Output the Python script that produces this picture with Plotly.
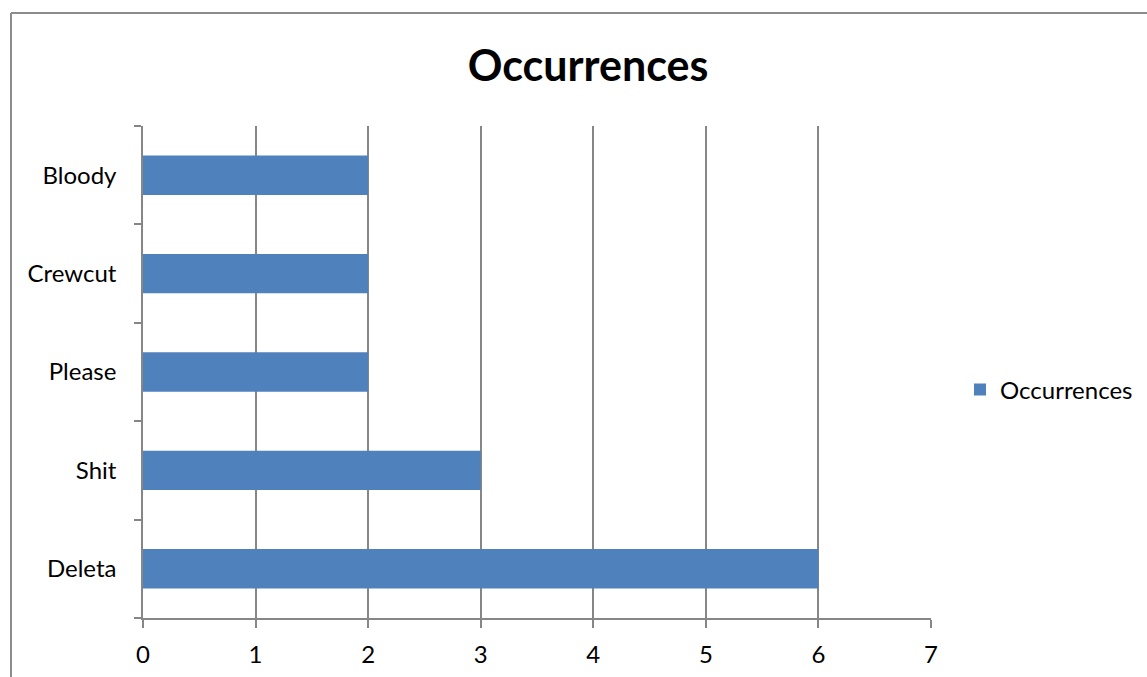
import plotly.graph_objects as go

categories = ["Deleta", "Shit", "Please", "Crewcut", "Bloody"]
values = [6, 3, 2, 2, 2]
series_name = "Occurrences"

W, H = 1147, 677
L, R, T, B = 143, 216, 126, 59
pw, ph = W - L - R, H - T - B

def px_x(x):
    return (x - L) / pw

def px_y(y):
    return (H - B - y) / ph

FONT = "Lato, Carlito, Calibri, sans-serif"
GRID = "#868686"

fig = go.Figure(go.Bar(
    y=categories, x=values, orientation="h", name=series_name,
    marker=dict(color="#4F81BD", line=dict(width=0)),
    showlegend=True,
))

fig.update_layout(
    width=W, height=H,
    margin=dict(l=L, r=R, t=T, b=B, autoexpand=False),
    paper_bgcolor="white", plot_bgcolor="white",
    bargap=0.6,
    font=dict(family=FONT, size=24, color="black"),
    title=dict(text="<b>Occurrences</b>", x=px_x(588), xref="paper", xanchor="center",
               y=1 - 66 / H, yanchor="middle", font=dict(size=43, family=FONT, color="black")),
    xaxis=dict(range=[0, 7], dtick=1, tick0=0, showgrid=True, gridcolor=GRID, gridwidth=1.5,
               showline=True, linecolor=GRID, linewidth=1.5, ticks="outside", ticklen=8,
               tickcolor=GRID, tickwidth=1.5, zeroline=False, fixedrange=True, automargin=False,
               ticklabelstandoff=6, tickfont=dict(size=24)),
    yaxis=dict(showgrid=False, showline=True, linecolor=GRID, linewidth=1.5, ticks="outside",
               ticklen=7, tickcolor=GRID, tickwidth=1.5, tickson="boundaries", automargin=False,
               ticklabelstandoff=20, tickfont=dict(size=24)),
    legend=dict(x=px_x(960), xanchor="left", y=px_y(390), yanchor="middle",
                font=dict(size=24), bgcolor="rgba(0,0,0,0)"),
    shapes=[
        dict(type="line", xref="paper", yref="paper", x0=px_x(11), x1=px_x(11),
             y0=px_y(13), y1=px_y(700), line=dict(color="#8c8c8c", width=2)),
        dict(type="line", xref="paper", yref="paper", x0=px_x(11), x1=px_x(1200),
             y0=px_y(13), y1=px_y(13), line=dict(color="#8c8c8c", width=2)),
    ],
)

fig.write_html("out.html")
